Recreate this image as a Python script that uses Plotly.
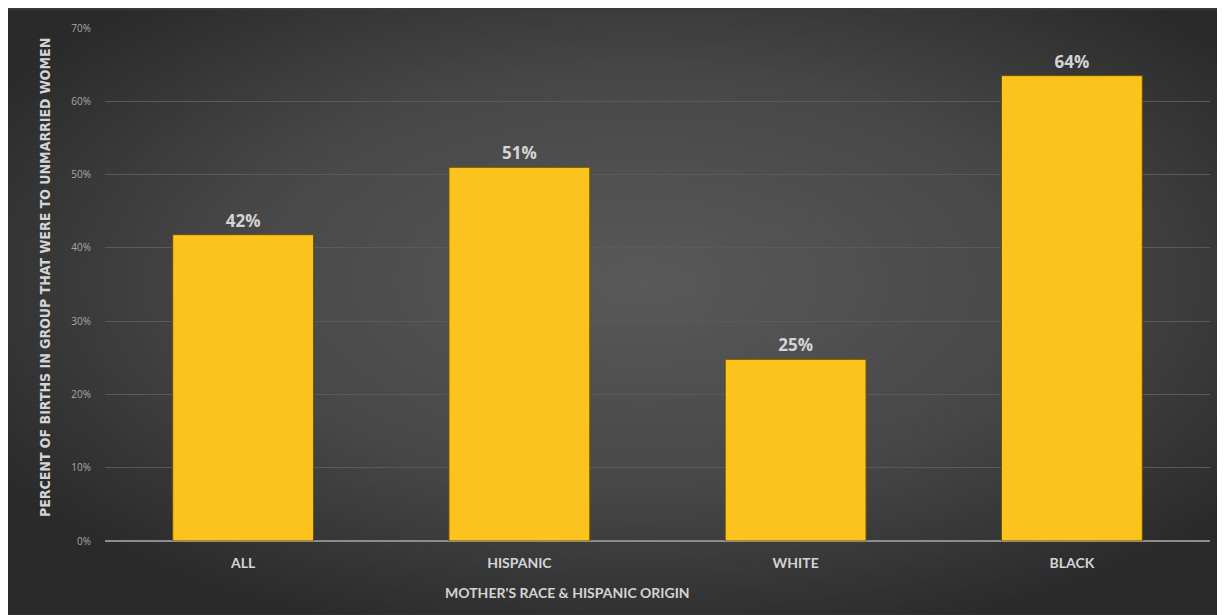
import base64
import plotly.graph_objects as go

categories = ["ALL", "HISPANIC", "WHITE", "BLACK"]
values = [0.418, 0.510, 0.248, 0.635]
value_labels = ["42%", "51%", "25%", "64%"]
y_ticks = [0, 0.1, 0.2, 0.3, 0.4, 0.5, 0.6, 0.7]
y_tick_labels = ["0%", "10%", "20%", "30%", "40%", "50%", "60%", "70%"]

# page body has an 8px margin; figure sits at (8, 8)
W, H = 1217, 607
L, R, T, B = 97, 15, 18, 74
pw, ph = W - L - R, H - T - B

def px_to_paper_x(px):
    return (px - L) / pw

def px_to_paper_y(py):
    return (H - B - py) / ph

svg = """<svg xmlns='http://www.w3.org/2000/svg' width='1217' height='607' preserveAspectRatio='none'>
<defs><radialGradient id='g' cx='0.52' cy='0.45' r='0.62' gradientUnits='objectBoundingBox'>
<stop offset='0' stop-color='#595959'/>
<stop offset='0.55' stop-color='#474747'/>
<stop offset='1' stop-color='#2a2a2a'/>
</radialGradient></defs>
<rect width='1217' height='607' fill='url(#g)'/>
</svg>"""
bg_src = "data:image/svg+xml;base64," + base64.b64encode(svg.encode()).decode()

fig = go.Figure()
fig.add_trace(go.Bar(
    x=categories, y=values,
    text=value_labels, textposition="outside",
    textfont=dict(family="Open Sans", size=17, color="#d4d4d4", weight="bold"),
    marker=dict(color="#fcc21e", line=dict(color="#6a5000", width=1)),
    cliponaxis=False,
    hoverinfo="skip",
))

x0, x1 = px_to_paper_x(0), px_to_paper_x(W)
y1, y0 = px_to_paper_y(0), px_to_paper_y(H)
fig.add_layout_image(dict(
    source=bg_src, xref="paper", yref="paper",
    x=x0, y=y1, sizex=x1 - x0, sizey=y1 - y0,
    xanchor="left", yanchor="top", sizing="stretch", layer="below",
))

fig.add_annotation(
    text="PERCENT OF BIRTHS IN GROUP THAT WERE TO UNMARRIED WOMEN",
    xref="paper", yref="paper", x=px_to_paper_x(37), y=px_to_paper_y(269),
    textangle=-90, showarrow=False, xanchor="center", yanchor="middle",
    font=dict(family="DejaVu Sans Condensed", size=14, color="#d4d4d4", weight="bold"),
)
fig.add_annotation(
    text="MOTHER'S RACE &amp; HISPANIC ORIGIN",
    xref="paper", yref="paper", x=px_to_paper_x(559), y=px_to_paper_y(585),
    showarrow=False, xanchor="center", yanchor="middle",
    font=dict(family="Lato", size=14, color="#d4d4d4", weight="bold"),
)

fig.update_layout(
    width=W, height=H,
    margin=dict(l=L, r=R, t=T, b=B, pad=0),
    paper_bgcolor="#3a3a3a",
    plot_bgcolor="rgba(0,0,0,0)",
    bargap=0.49,
    showlegend=False,
    xaxis=dict(
        showgrid=False, showline=False, zeroline=False, ticks="",
        tickfont=dict(family="Lato", size=14, color="#d4d4d4", weight="bold"),
        ticklabelstandoff=12,
    ),
    yaxis=dict(
        range=[0, 0.7], tickvals=y_ticks, ticktext=y_tick_labels,
        showgrid=True, gridcolor="#5a5a5a", gridwidth=1,
        zeroline=True, zerolinecolor="#8c8c8c", zerolinewidth=2,
        showline=False, ticks="",
        tickfont=dict(family="Open Sans", size=10, color="#a8a8a8"),
        ticklabelstandoff=13,
    ),
)

fig.write_html("out.html")
